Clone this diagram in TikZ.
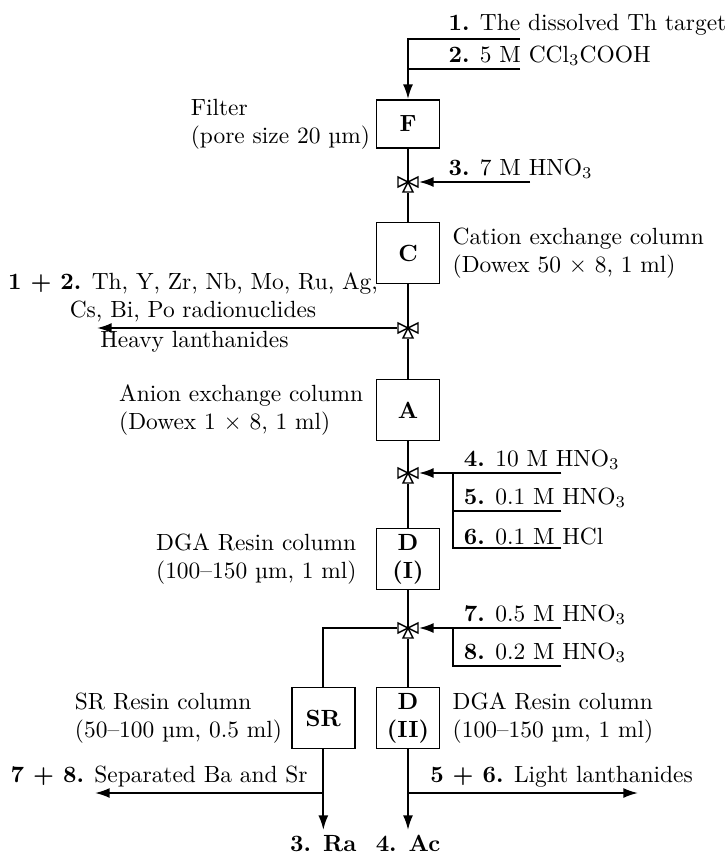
\documentclass[tikz,border=0pt]{standalone}
\usepackage{amsmath,amssymb}
\usepackage{tikz}
\usetikzlibrary{arrows.meta,positioning,calc}

\begin{document}
\begin{tikzpicture}[line width=0.8pt,
  colbox/.style={draw, rectangle, fill=white, font=\bfseries, align=center, minimum width=0.945cm, minimum height=0.915cm, inner sep=1pt},
  valve/.style={inner sep=0pt, minimum size=3mm},
  desc/.style={align=left, inner sep=2pt},
  feed/.style={align=left, inner sep=1pt, anchor=south west},
  flow/.style={-{Latex[length=2.2mm, width=1.5mm]}},
  valvesym/.pic={
    \draw[line width=0.6pt, fill=white] (-0.15,0.075) -- (0,0) -- (-0.15,-0.075) -- cycle;
    \draw[line width=0.6pt, fill=white] (0.15,0.075) -- (0,0) -- (0.15,-0.075) -- cycle;
    \draw[line width=0.6pt, fill=white] (-0.075,-0.15) -- (0,0) -- (0.075,-0.15) -- cycle;
  }
]

\useasboundingbox (-6.12,0) rectangle (4.785,-12.855);

% Columns and valves
\node[colbox, minimum height=0.72cm] (filt) at (0,-1.86) {F};
\node[valve] (v1) at (0,-2.73) {};
\node[colbox] (cat) at (0,-3.795) {C};
\node[valve] (v2) at (0,-4.92) {};
\node[colbox] (ani) at (0,-6.15) {A};
\node[valve] (v3) at (0,-7.095) {};
\node[colbox] (dga1) at (0,-8.385) {D\\(I)};
\node[valve] (v4) at (0,-9.42) {};
\node[colbox] (dga2) at (0,-10.77) {D\\(II)};
\node[colbox] (sr) at (-1.27,-10.77) {SR};

\pic at (v1) {valvesym};
\pic at (v2) {valvesym};
\pic at (v3) {valvesym};
\pic at (v4) {valvesym};

% Column descriptions
\node[desc, anchor=east] (filtd) at (filt.west) {Filter\\(pore size 20 \textmu m)};
\node[desc, anchor=west, xshift=1mm] (catd) at (cat.east) {Cation exchange column\\(Dowex 50 $\times$ 8, 1 ml)};
\node[desc, anchor=east, xshift=-1mm] (anid) at (ani.west) {Anion exchange column\\(Dowex 1 $\times$ 8, 1 ml)};
\node[desc, anchor=east, xshift=-2mm] (dga1d) at (dga1.west) {DGA Resin column\\(100--150 \textmu m, 1 ml)};
\node[desc, anchor=east, xshift=-0.5mm] (srd) at (sr.west) {SR Resin column\\(50--100 \textmu m, 0.5 ml)};
\node[desc, anchor=west, xshift=1mm] (dga2d) at (dga2.east) {DGA Resin column\\(100--150 \textmu m, 1 ml)};

% Feed points
\coordinate (in1) at (1.68,-0.585);
\coordinate (in2) at (1.68,-1.035);
\coordinate (in3) at (1.83,-2.73);
\coordinate (in4) at (2.3,-7.095);
\coordinate (in5) at (2.3,-7.665);
\coordinate (in6) at (2.3,-8.22);
\coordinate (j3) at (0.675,-7.095);
\coordinate (in7) at (2.3,-9.42);
\coordinate (in8) at (2.3,-9.99);
\coordinate (j4) at (0.675,-9.42);
\coordinate (out12) at (-4.665,-4.92);
\coordinate (outba) at (-4.695,-11.895);
\coordinate (outla) at (3.45,-11.895);

\node[feed] (t1) at (0.56,-0.585) {\textbf{1.} The dissolved Th target};
\node[feed] (t2) at (0.56,-1.035) {\textbf{2.} 5 M CCl$_3$COOH};
\node[feed] (t3) at (0.56,-2.73) {\textbf{3.} 7 M HNO$_3$};
\node[feed] (t4) at (0.79,-7.095) {\textbf{4.} 10 M HNO$_3$};
\node[feed] (t5) at (0.79,-7.665) {\textbf{5.} 0.1 M HNO$_3$};
\node[feed] (t6) at (0.79,-8.22) {\textbf{6.} 0.1 M HCl};
\node[feed] (t7) at (0.79,-9.42) {\textbf{7.} 0.5 M HNO$_3$};
\node[feed] (t8) at (0.79,-9.99) {\textbf{8.} 0.2 M HNO$_3$};

% Outlets
\node[align=center, anchor=south, inner sep=2pt] (o12) at (-3.225,-4.92) {\textbf{1 + 2.} Th, Y, Zr, Nb, Mo, Ru, Ag,\\Cs, Bi, Po radionuclides};
\node[desc, anchor=north west, inner sep=1pt] (oheavy) at (out12) {Heavy lanthanides};
\node[desc, anchor=south east, xshift=-1.5mm] (o78) at (sr.south |- outba) {\textbf{7 + 8.} Separated Ba and Sr};
\node[desc, anchor=south west, xshift=2.5mm] (o56) at (dga2.south |- outla) {\textbf{5 + 6.} Light lanthanides};
\node[anchor=north, font=\bfseries, inner sep=2pt] (ra) at (-1.27,-12.45) {3. Ra};
\node[anchor=north, font=\bfseries, inner sep=2pt] (ac) at (0,-12.45) {4. Ac};

% Connections
\draw[flow] (in1) -| (filt.north);
\draw (in2) -- (in2 -| filt.north);
\draw (filt.south) -- (v1.center);
\draw[flow] (in3) -- (v1.east);
\draw (v1.south) -- (cat.north);
\draw (cat.south) -- (v2.center);
\draw[flow] (v2.west) -- (out12);
\draw (v2.south) -- (ani.north);
\draw (ani.south) -- (v3.center);
\draw[flow] (in4) -- (v3.east);
\draw (in6) -| (j3);
\draw (in5) -- (in5 -| j3);
\draw (v3.south) -- (dga1.north);
\draw (dga1.south) -- (v4.center);
\draw[flow] (in7) -- (v4.east);
\draw (in8) -| (j4);
\draw (v4.south) -- (dga2.north);
\draw (v4.west) -| (sr.north);
\draw[flow] (sr.south) -- (ra);
\draw[flow] (dga2.south) -- (ac);
\draw[flow] (sr.south |- outba) -- (outba);
\draw[flow] (dga2.south |- outla) -- (outla);

\end{tikzpicture}
\end{document}
